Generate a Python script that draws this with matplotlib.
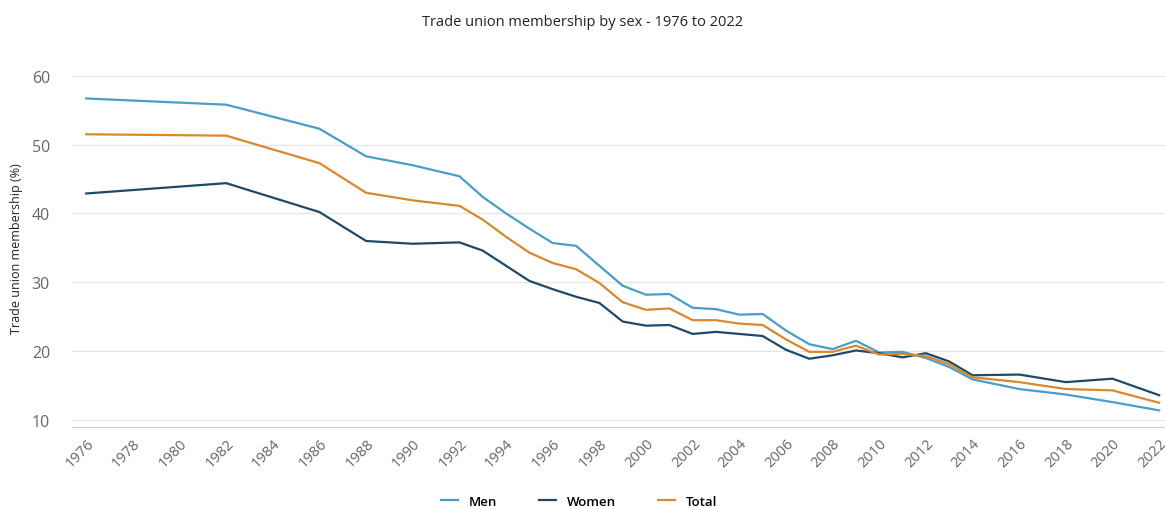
import matplotlib.pyplot as plt

plt.rcParams['font.family'] = ['Open Sans', 'DejaVu Sans']

years = [1976, 1982, 1986, 1988, 1990, 1992, 1993, 1994, 1995, 1996, 1997,
         1998, 1999, 2000, 2001, 2002, 2003, 2004, 2005, 2006, 2007, 2008,
         2009, 2010, 2011, 2012, 2013, 2014, 2016, 2018, 2020, 2022]
men = [56.7, 55.8, 52.3, 48.3, 47.0, 45.4, 42.4, 40.0, 37.8, 35.7, 35.3,
       32.4, 29.5, 28.2, 28.3, 26.3, 26.1, 25.3, 25.4, 23.0, 21.0, 20.3,
       21.5, 19.8, 19.9, 19.0, 17.7, 15.9, 14.5, 13.7, 12.6, 11.4]
women = [42.9, 44.4, 40.2, 36.0, 35.6, 35.8, 34.6, 32.4, 30.2, 29.0, 27.9,
         27.0, 24.3, 23.7, 23.8, 22.5, 22.8, 22.5, 22.2, 20.2, 18.9, 19.4,
         20.1, 19.7, 19.1, 19.7, 18.5, 16.5, 16.6, 15.5, 16.0, 13.6]
total = [51.5, 51.3, 47.3, 43.0, 41.9, 41.1, 39.1, 36.6, 34.3, 32.8, 31.9,
         29.9, 27.1, 26.0, 26.2, 24.5, 24.5, 24.0, 23.8, 21.7, 19.9, 19.9,
         20.8, 19.5, 19.6, 19.3, 18.1, 16.2, 15.5, 14.5, 14.3, 12.5]

xticks = list(range(1976, 2023, 2))
yticks = [10, 20, 30, 40, 50, 60]

fig = plt.figure(figsize=(11.65, 5.1), dpi=100)
ax = fig.add_axes([0.062, 0.161, 0.938, 0.702])

ax.plot(years, men, color='#4a9dc8', lw=1.6, label='Men')
ax.plot(years, women, color='#1d4a68', lw=1.6, label='Women')
ax.plot(years, total, color='#d9892b', lw=1.6, label='Total')

ax.set_xlim(1975.4, 2022.25)
ax.set_ylim(9, 61)
ax.set_xticks(xticks)
ax.set_xticklabels([str(y) for y in xticks], rotation=45, ha='right',
                   rotation_mode='anchor', color='#666666', fontsize=10.5)
ax.set_yticks(yticks)
ax.set_yticklabels([str(v) for v in yticks], color='#666666', fontsize=11.5)
ax.tick_params(axis='both', length=0)
ax.tick_params(axis='x', pad=6)
ax.tick_params(axis='y', pad=16)

ax.grid(axis='y', color='#e6e6e6', lw=0.9)
ax.set_axisbelow(True)
for s in ['top', 'right', 'left']:
    ax.spines[s].set_visible(False)
ax.spines['bottom'].set_color('#cccccc')

ax.set_ylabel('Trade union membership (%)', fontsize=9, color='#222222', labelpad=6)
fig.text(0.5, 0.955, 'Trade union membership by sex - 1976 to 2022',
         ha='center', va='center', fontsize=10.5, color='#222222')

fig.legend(loc='center', bbox_to_anchor=(0.497, 0.015), ncol=3, frameon=False,
           prop={'size': 9.5, 'weight': 'semibold'}, handlelength=1.3,
           columnspacing=3.2, handletextpad=0.8)

fig.savefig('out.png', dpi=100)
